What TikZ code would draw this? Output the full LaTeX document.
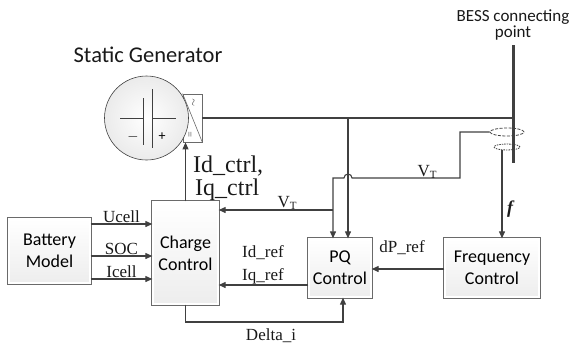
\documentclass[tikz,border=0pt]{standalone}
\usepackage{fontspec}
\setmainfont{Liberation Serif}
\newfontfamily\calfont{Carlito}
\usetikzlibrary{arrows.meta,calc,shapes.geometric}
\definecolor{lc}{HTML}{404040}
\definecolor{bc}{HTML}{6A6A6A}
\begin{document}
\begin{tikzpicture}[x=1pt,y=-1pt,
  line/.style={draw=lc, line width=1.1pt},
  arr/.style={line, -{Triangle[length=7pt,width=6pt]}},
  blk/.style={draw=bc, line width=0.7pt, double=white, double distance=2pt,
    top color=white, bottom color=gray!14, font=\calfont\fontsize{18}{22}\selectfont,
    align=center, inner sep=0pt},
  lbl/.style={font=\fontsize{17}{19}\selectfont, inner sep=1pt, text=black!90},
  big/.style={font=\fontsize{24}{26}\selectfont, inner sep=0pt, text=black!90},
]
\useasboundingbox (0,0) rectangle (574,349);

% title
\node[font=\calfont\fontsize{22.5}{24}\selectfont, anchor=base, text=black!90] (title) at (148,62) {Static Generator};
\node[font=\calfont\fontsize{17}{18}\selectfont, anchor=base, text=black!90] (bess1) at (513,21) {BESS connecting};
\node[font=\calfont\fontsize{17}{18}\selectfont, anchor=base, text=black!90] (bess2) at (513,37) {point};

% converter box and static generator
\node[draw=bc, line width=0.8pt, fill=white, minimum width=19pt, minimum height=48pt, inner sep=0pt] (conv) at (192.5,118) {};
\draw[bc, line width=0.6pt] (conv.north west) -- (conv.south east);
\node[rotate=90, font=\fontsize{10}{10}\selectfont, inner sep=0pt, text=black!80] (acs) at (194,103) {$\sim$};
\node[rotate=90, font=\fontsize{10}{10}\selectfont, inner sep=0pt, text=black!80] (dcs) at (191,135) {=};
\node[circle, draw=lc, line width=0.6pt, minimum size=84pt, inner sep=0pt,
      inner color=white, outer color=gray!16] (sg) at (146.5,118) {};
% battery symbol inside
\draw[lc, line width=0.7pt] (120,118) -- (143,118) (143,98) -- (143,145)
   (152,89) -- (152,148) (152,118) -- (176,118);
\node[font=\calfont\fontsize{14}{14}\selectfont, inner sep=0pt] (minus) at (133,137) {$-$};
\node[font=\calfont\fontsize{14}{14}\selectfont, inner sep=0pt] (plus) at (162,137) {+};

% bus
\coordinate (bustop) at (513,45);
\coordinate (busbot) at (513,163);
\draw[lc, line width=3pt] (bustop) -- (busbot);

% sensor ellipses
\node[ellipse, draw=lc, line width=0.8pt, dash pattern=on 3pt off 1.5pt, minimum width=34pt, minimum height=8pt, inner sep=0pt] (e1) at (507,132) {};
\node[ellipse, draw=lc, line width=0.8pt, dash pattern=on 1.5pt off 1pt, minimum width=26pt, minimum height=6pt, inner sep=0pt] (e2) at (507,147) {};

% blocks
\node[blk, minimum width=81.6pt, minimum height=64.6pt] (battery) at (49.5,251) {Battery\\Model};
\node[blk, minimum width=65.6pt, minimum height=102.6pt] (charge) at (185.5,253) {Charge\\Control};
\node[blk, minimum width=62.6pt, minimum height=58.6pt] (pq) at (340,268) {PQ\\Control};
\node[blk, minimum width=94.6pt, minimum height=58.6pt] (freq) at (492,268) {Frequency\\Control};

% helper levels
\coordinate (j1) at (348,118);
\coordinate (vt1) at (460,178);
\coordinate (vt2) at (333,178);
\coordinate (vt3) at (333,210);
\coordinate (yU) at (0,224);
\coordinate (yS) at (0,256);
\coordinate (yI) at (0,279);
\coordinate (yR) at (0,285);
\coordinate (yP) at (0,269);
\coordinate (yD) at (0,322);
\coordinate (fx) at (502,0);
\coordinate (dx) at (343,0);

% top line from converter to bus
\draw[line] (conv.east) -- (conv.east -| bustop);
\draw[arr] (j1) -- (j1 |- pq.north);

% V_T measurement
\draw[arr] (e1.west) -| (vt1) -- (352,178) arc[start angle=0, end angle=180, radius=4pt] -- (vt2) -- (vt2 |- pq.north);
\draw[arr] (vt3) -- (vt3 -| charge.east);
\node[lbl, anchor=base] (vtl1) at (427,176) {V\raisebox{-2.5pt}{\fontsize{11}{11}\selectfont T}};
\node[lbl, anchor=base] (vtl2) at (287,207) {V\raisebox{-2.5pt}{\fontsize{11}{11}\selectfont T}};

% frequency
\draw[arr] (e2.south -| fx) -- (freq.north -| fx);
\node[lbl, font=\fontsize{18}{19}\selectfont\bfseries\itshape] (fl) at (510,209) {f};

% control signal to converter
\draw[arr] (charge.north) -- (charge.north |- conv.south);
\node[big, anchor=base west] (idc) at (193,172) {Id\_ctrl,};
\node[big, anchor=base west] (iqc) at (195,195) {Iq\_ctrl};

% battery model to charge control
\draw[arr] (battery.east |- yU) -- node[lbl, above] {Ucell} (charge.west |- yU);
\draw[arr] (battery.east |- yS) -- node[lbl, above] {SOC} (charge.west |- yS);
\draw[arr] (battery.east |- yI) -- node[lbl, above] {Icell} (charge.west |- yI);

% PQ to charge
\draw[arr] (pq.west |- yR) -- (charge.east |- yR);
\node[lbl, anchor=base] (idr) at (263,257) {Id\_ref};
\node[lbl, anchor=base] (iqr) at (263,280) {Iq\_ref};

% freq to PQ
\draw[arr] (freq.west |- yP) -- (pq.east |- yP);
\node[lbl, anchor=base] (dpr) at (402,252) {dP\_ref};

% Delta_i
\draw[arr] (charge.south) -- (charge.south |- yD) -| (dx |- pq.south);
\node[lbl, anchor=base] (dli) at (271,340) {Delta\_i};
\end{tikzpicture}
\end{document}
